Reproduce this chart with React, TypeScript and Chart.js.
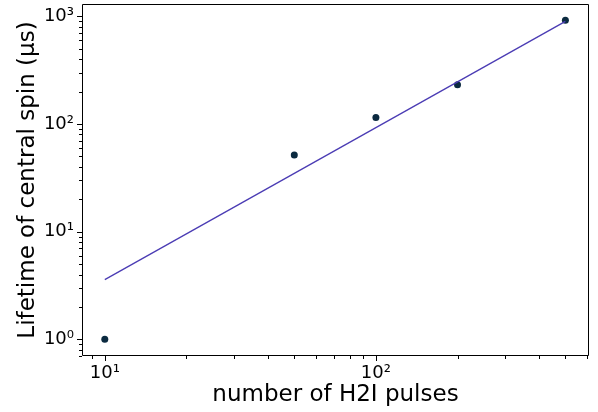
import React, { useEffect, useRef } from "react";
import { Chart, registerables } from "chart.js";

Chart.register(...registerables);

const pulses = [10, 50, 100, 200, 500];
const lifetimes = [1.0, 51.6, 115, 232, 918];
const fitX = [10, 500];
const fitY = [3.59, 899];
const xMajorTicks = [10, 100];
const yMajorTicks = [1, 10, 100, 1000];
const supers: Record<string, string> = { "0": "⁰", "1": "¹", "2": "²", "3": "³" };
const xLabel = "number of H2I pulses";
const yLabel = "Lifetime of central spin (µs)";

const FONT = "'DejaVu Sans', sans-serif";

function fmt(v: number): string {
  const e = Math.round(Math.log10(v));
  if (Math.abs(Math.log10(v) - e) > 1e-6) return "";
  return "10" + String(e).split("").map((c) => supers[c] ?? c).join("");
}

function minorList(min: number, max: number): number[] {
  const out: number[] = [];
  for (let d = Math.pow(10, Math.floor(Math.log10(min))); d <= max; d *= 10) {
    for (let k = 1; k < 10; k++) {
      const v = k * d;
      if (v >= min && v <= max) out.push(v);
    }
  }
  return out;
}

const framePlugin = {
  id: "frame",
  afterDraw(chart: any) {
    const { ctx, chartArea } = chart;
    const { left, right, top, bottom } = chartArea;
    const xs = chart.scales.x;
    const ys = chart.scales.y;
    ctx.save();
    ctx.strokeStyle = "#000";
    ctx.lineWidth = 1;
    ctx.beginPath();
    ctx.rect(left + 0.5, top + 0.5, right - left - 1, bottom - top - 1);
    ctx.stroke();
    const xm = minorList(xs.min, xs.max);
    for (const v of xm) {
      const major = Math.abs(Math.log10(v) - Math.round(Math.log10(v))) < 1e-9;
      const len = major ? 5 : 3;
      const px = Math.round(xs.getPixelForValue(v)) + 0.5;
      ctx.beginPath();
      ctx.moveTo(px, bottom);
      ctx.lineTo(px, bottom + len);
      ctx.stroke();
    }
    const ym = minorList(ys.min, ys.max);
    for (const v of ym) {
      const major = Math.abs(Math.log10(v) - Math.round(Math.log10(v))) < 1e-9;
      const len = major ? 5 : 3;
      const py = Math.round(ys.getPixelForValue(v)) + 0.5;
      ctx.beginPath();
      ctx.moveTo(left, py);
      ctx.lineTo(left - len, py);
      ctx.stroke();
    }
    ctx.restore();
  },
};

export default function App() {
  const ref = useRef<HTMLCanvasElement>(null);
  useEffect(() => {
    if (!ref.current) return;
    const chart = new Chart(ref.current, {
      type: "scatter",
      data: {
        datasets: [
          {
            type: "line",
            label: "fit",
            data: fitX.map((x, i) => ({ x, y: fitY[i] })),
            borderColor: "#4b3cb4",
            borderWidth: 1.3,
            pointRadius: 0,
            fill: false,
          },
          {
            label: "data",
            data: pulses.map((x, i) => ({ x, y: lifetimes[i] })),
            backgroundColor: "#0b2a40",
            borderColor: "#0b2a40",
            pointRadius: 3.5,
            borderWidth: 0,
          },
        ],
      },
      options: {
        animation: false,
        responsive: true,
        maintainAspectRatio: false,
        layout: { padding: { top: 4, right: 9, left: 0, bottom: 0 } },
        plugins: { legend: { display: false }, tooltip: { enabled: false } },
        scales: {
          x: {
            type: "logarithmic",
            min: 8.24,
            max: 611,
            grid: { display: false, drawTicks: false },
            border: { display: false },
            afterBuildTicks: (s: any) => {
              s.ticks = xMajorTicks.map((v) => ({ value: v }));
            },
            afterFit: (s: any) => {
              s.height = 56;
              s.paddingLeft = 0;
              s.paddingRight = 0;
            },
            ticks: {
              callback: (v: any) => fmt(Number(v)),
              color: "#000",
              font: { family: FONT, size: 18 },
              padding: 7,
              maxRotation: 0,
              autoSkip: false,
            },
            title: {
              display: true,
              text: xLabel,
              color: "#000",
              font: { family: FONT, size: 23 },
              padding: { top: 0, bottom: 3 },
            },
          },
          y: {
            type: "logarithmic",
            min: 0.72,
            max: 1303,
            grid: { display: false, drawTicks: false },
            border: { display: false },
            afterBuildTicks: (s: any) => {
              s.ticks = yMajorTicks.map((v) => ({ value: v }));
            },
            afterFit: (s: any) => {
              s.width = 82;
              s.paddingTop = 0;
              s.paddingBottom = 0;
            },
            ticks: {
              callback: (v: any) => fmt(Number(v)),
              color: "#000",
              font: { family: FONT, size: 18 },
              padding: 8,
              autoSkip: false,
            },
            title: {
              display: true,
              text: yLabel,
              color: "#000",
              font: { family: FONT, size: 23 },
              padding: { top: 14, bottom: 0 },
            },
          },
        },
      },
      plugins: [framePlugin],
    });
    return () => chart.destroy();
  }, []);
  return (
    <div style={{ position: "fixed", left: 0, top: 0, width: 598, height: 412, background: "#fff" }}>
      <canvas ref={ref} />
    </div>
  );
}
